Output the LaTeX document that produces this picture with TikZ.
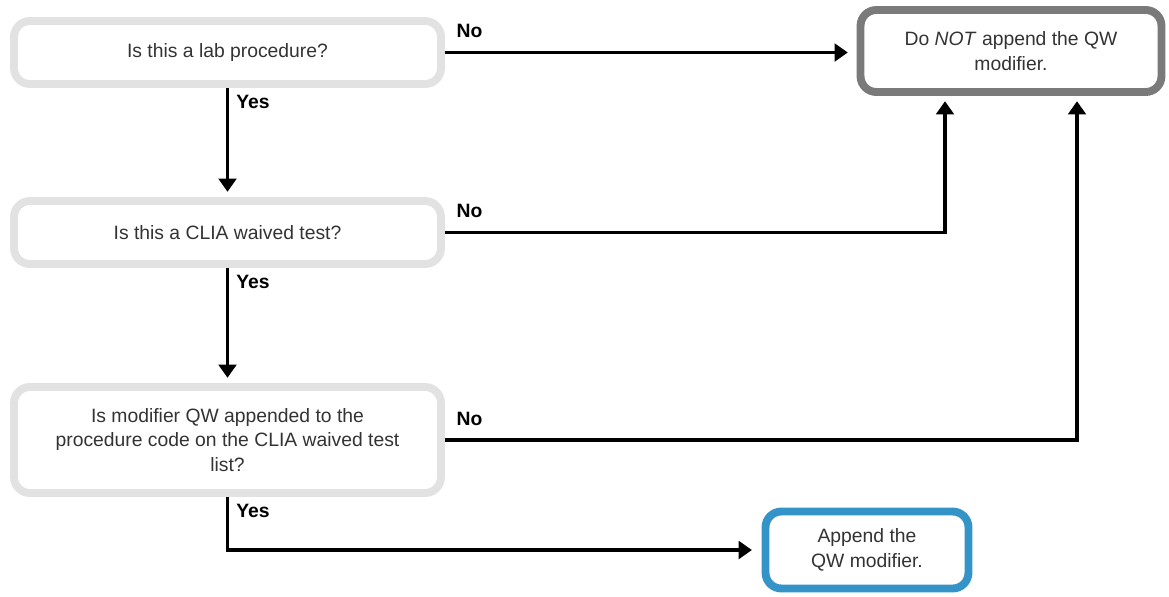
\documentclass[tikz,border=0pt]{standalone}
\usepackage{fontspec}
\setmainfont{Liberation Sans}
\usetikzlibrary{calc,arrows.meta}
\definecolor{askgray}{HTML}{E2E2E2}
\definecolor{stopgray}{HTML}{7A7A7A}
\definecolor{goblue}{HTML}{3494C8}

\begin{document}
\begin{tikzpicture}[x=0.02cm,y=-0.02cm,
  box/.style={rounded corners=9pt,line width=4.5pt,fill=white,align=center,
    text=black!80,font=\fontsize{11}{14}\selectfont,inner sep=0pt},
  ask/.style={box,draw=askgray,minimum width=8.54cm},
  flow/.style={line width=2pt,-{Triangle[length=7.5pt,width=10pt]},shorten >=3pt},
  ans/.style={font=\bfseries\fontsize{11}{13}\selectfont,inner sep=0pt,pos=0,anchor=base west},
  no/.style={ans,xshift=0.2cm,yshift=0.3cm},
  yes/.style={ans,xshift=0.14cm,yshift=-0.42cm}]

\useasboundingbox (0,0) rectangle (1169,596);

\def\side{66}

% questions
\node[ask,minimum height=1.26cm] (lab) at (227.5,52.5) {Is this a lab procedure?};
\node[ask,minimum height=1.26cm] (clia) at (227.5,232.5) {Is this a CLIA waived test?};
\node[ask,minimum height=2.12cm] (qwlist) at (227.5,440) {Is modifier QW appended to the\\procedure code on the CLIA waived test\\list?};

% answers
\node[box,draw=stopgray,minimum width=6.02cm,minimum height=1.64cm] (noqw) at (1011,51) {Do \textit{NOT} append the QW\\modifier.};
\node[box,draw=goblue,minimum width=4.06cm,minimum height=1.54cm] (addqw) at (867,550) {Append the\\QW modifier.};

\draw[flow,shorten >=5pt] (lab.east) -- node[no]{No} (lab.east -| noqw.west);
\draw[flow] (lab.south) -- node[yes]{Yes} (clia.north);
\draw[flow] (clia.east) -- node[no]{No} ($(clia.east -| noqw.south)+(-\side,0)$) -- ($(noqw.south)+(-\side,0)$);
\draw[flow] (clia.south) -- node[yes]{Yes} (qwlist.north);
\draw[flow] (qwlist.east) -- node[no]{No} ($(qwlist.east -| noqw.south)+(\side,0)$) -- ($(noqw.south)+(\side,0)$);
\draw[flow,shorten >=5.5pt] (qwlist.south) |- node[yes]{Yes} (addqw.west);

\end{tikzpicture}
\end{document}
